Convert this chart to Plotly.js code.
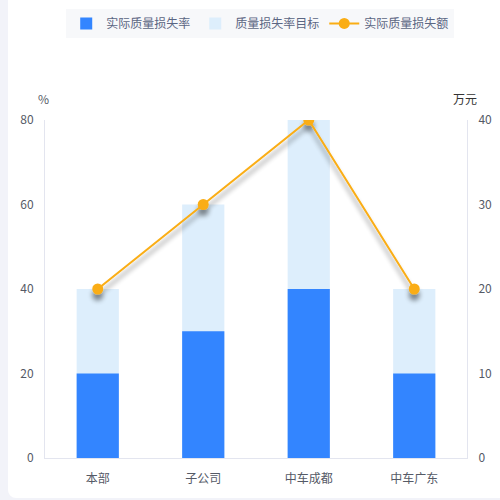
<!DOCTYPE html>
<html><head><meta charset="utf-8">
<script src="https://cdn.plot.ly/plotly-3.0.1.min.js"></script>
<style>
html,body{margin:0;padding:0;background:#f2f3f9;width:500px;height:500px;overflow:hidden;}
#card{position:absolute;left:8px;top:0;width:492px;height:498px;background:#fff;border-radius:0 0 0 8px;}
#chart{width:492px;height:498px;}
.cartesianlayer .scatterlayer{filter:url(#lineshadow);}
</style></head>
<body>
<svg width="0" height="0" style="position:absolute">
  <defs>
    <filter id="lineshadow" x="-10%" y="-10%" width="120%" height="130%" filterUnits="objectBoundingBox">
      <feGaussianBlur in="SourceAlpha" stdDeviation="2.5"/>
      <feOffset dx="0" dy="6" result="ob"/>
      <feComponentTransfer><feFuncA type="linear" slope="0.45"/></feComponentTransfer>
      <feMerge><feMergeNode/><feMergeNode in="SourceGraphic"/></feMerge>
    </filter>
  </defs>
</svg>
<div id="card"><div id="chart"></div></div>
<script>
const categories = ['本部','子公司','中车成都','中车广东'];
const actualRate = [20,30,40,20];
const targetRate = [40,60,80,40];
const actualLoss = [20,30,40,20];
const seriesNames = ['实际质量损失率','质量损失率目标','实际质量损失额'];

const traces = [
  {type:'bar', name:seriesNames[0], x:categories, y:actualRate, marker:{color:'#3385ff'}, width:0.4, yaxis:'y', legendrank:1},
  {type:'bar', name:seriesNames[1], x:categories, y:targetRate, marker:{color:'#ddeefc'}, width:0.4, yaxis:'y', legendrank:2},
  {type:'scatter', mode:'lines+markers', name:seriesNames[2], x:categories, y:actualLoss, yaxis:'y2',
   line:{color:'#faad14', width:2}, marker:{color:'#faad14', size:11}, legendrank:3}
];
const data = [traces[1], traces[0], traces[2]];

const axisFont = {family:'"Noto Sans CJK SC", "Noto Sans", sans-serif', size:12, color:'#555a66'};
const layout = {
  width:492, height:498,
  margin:{l:37, r:33, t:120, b:40},
  paper_bgcolor:'rgba(0,0,0,0)', plot_bgcolor:'rgba(0,0,0,0)',
  barmode:'overlay',
  showlegend:true,
  legend:{orientation:'h', x:0.51, xanchor:'center', y:0.982, yanchor:'top', yref:'container',
    bgcolor:'#f7f8fa', font:{family:'"Noto Sans CJK SC", sans-serif', size:12, color:'#5b6683'},
    traceorder:'normal', itemwidth:30},
  xaxis:{tickfont:axisFont, showline:true, linecolor:'#e3e5ef', linewidth:1, ticks:'', showgrid:false, zeroline:false, ticklabelstandoff:10},
  yaxis:{range:[0,80], tickvals:[0,20,40,60,80], tickfont:axisFont, showline:true, linecolor:'#e3e5ef', showgrid:false, zeroline:false, ticks:'', ticklabelstandoff:8},
  yaxis2:{range:[0,40], tickvals:[0,10,20,30,40], overlaying:'y', side:'right', tickfont:axisFont, showline:true, linecolor:'#e3e5ef', showgrid:false, zeroline:false, ticks:'', ticklabelstandoff:8},
  annotations:[
    {text:'%', xref:'paper', yref:'paper', x:0, y:1, xshift:-2, yshift:22, showarrow:false, xanchor:'center', yanchor:'middle', font:{family:'"Noto Sans CJK SC", sans-serif', size:12, color:'#555a66'}},
    {text:'万元', xref:'paper', yref:'paper', x:1, y:1, xshift:-2, yshift:22, showarrow:false, xanchor:'center', yanchor:'middle', font:{family:'"Noto Sans CJK SC", sans-serif', size:12, color:'#333'}}
  ]
};
Plotly.newPlot('chart', data, layout, {displayModeBar:false, staticPlot:true});
</script></body></html>
